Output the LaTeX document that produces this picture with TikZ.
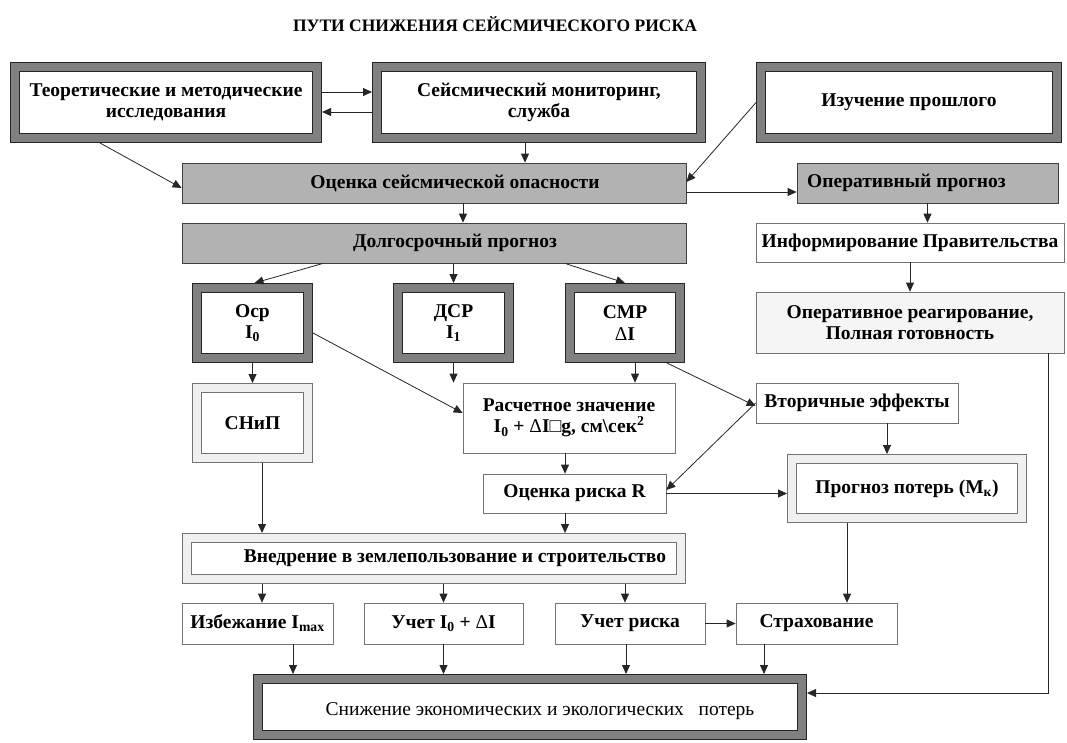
\documentclass[tikz,border=0pt]{standalone}
\usepackage{fontspec}
\setmainfont{Liberation Serif}
\usetikzlibrary{arrows.meta, calc}
\colorlet{bandgray}{black!50}
\colorlet{fillgray}{black!30}
\colorlet{palegray}{black!6}

\begin{document}
\begin{tikzpicture}[
        x=1pt, y=-1pt,
        every node/.style={
            font=\fontsize{19.5}{21.5}\selectfont\bfseries,
            align=center,
            inner sep=0pt,
        },
        heavy/.style={
            draw=black!85,
            line width=0.8pt,
            double=bandgray,
            double distance=8.4pt,
            fill=white,
            outer sep=5pt,
        },
        light/.style={
            draw=black!55,
            line width=0.7pt,
            double=palegray,
            double distance=8.6pt,
            fill=white,
            outer sep=5pt,
        },
        shaded/.style={
            draw=black!75,
            line width=0.8pt,
            fill=fillgray,
        },
        plain/.style={
            draw=black!55,
            line width=0.7pt,
            fill=white,
        },
        caption/.style={
            font=\fontsize{19.5}{21.5}\selectfont\bfseries,
            inner sep=0pt,
        },
        link/.style={
            -{Triangle[length=9pt, width=8pt]},
            draw=black!85,
            line width=0.8pt,
        },
    ]
    \useasboundingbox (0, 0) rectangle (1067, 742);

    \node[font=\fontsize{17.5}{20}\selectfont\bfseries] (title) at (495, 24) {ПУТИ СНИЖЕНИЯ СЕЙСМИЧЕСКОГО РИСКА};

    \node[heavy, minimum width=302pt, minimum height=71pt] (teor) at (166, 102.5) {Теоретические и методические\\исследования};
    \node[heavy, minimum width=324pt, minimum height=71pt] (mon) at (539, 102.5) {Сейсмический мониторинг,\\служба};
    \node[heavy, minimum width=296pt, minimum height=71pt] (izuch) at (909, 102.5) {Изучение прошлого};

    \node[shaded, minimum width=504pt, minimum height=40pt,
        label={[caption, xshift=21pt]center:Оценка сейсмической опасности}] (ocenka) at (434, 183) {};
    \node[shaded, minimum width=261pt, minimum height=40pt,
        label={[caption, xshift=-21pt]center:Оперативный прогноз}] (oper) at (927.5, 183) {};
    \node[shaded, minimum width=504pt, minimum height=40pt,
        label={[caption, xshift=21pt]center:Долгосрочный прогноз}] (dolg) at (434, 243) {};
    \node[plain, minimum width=308pt, minimum height=39pt] (inform) at (910, 242.5) {Информирование Правительства};

    \node[heavy, minimum width=111pt, minimum height=70pt] (osr) at (252.5, 323) {Оср\\I\textsubscript{0}};
    \node[heavy, minimum width=111pt, minimum height=70pt] (dsr) at (453.5, 323) {ДСР\\I\textsubscript{1}};
    \node[heavy, minimum width=110pt, minimum height=70pt] (smr) at (625, 323) {СМР\\{\mdseries Δ}I};
    \node[plain, fill=black!4, minimum width=308pt, minimum height=61pt] (reag) at (910, 322.5) {Оперативное реагирование,\\Полная готовность};

    \node[light, minimum width=111pt, minimum height=70pt] (snip) at (252.5, 423) {СНиП};
    \node[plain, minimum width=212pt, minimum height=70pt] (rasch) at (569, 418) {Расчетное значение\\I\textsubscript{0} + {\mdseries Δ}I□g, см\textbackslash сек\textsuperscript{2}};
    \node[plain, minimum width=202pt, minimum height=40pt] (vtor) at (857, 403) {Вторичные эффекты};

    \node[plain, minimum width=183pt, minimum height=39pt] (riskR) at (574.5, 493.5) {Оценка риска R};
    \node[light, minimum width=230pt, minimum height=59pt] (progn) at (907, 488.5) {Прогноз потерь (М\textsubscript{к})};

    \node[light, minimum width=494pt, minimum height=41pt,
        label={[caption, xshift=21pt]center:Внедрение в землепользование и строительство}] (vnedr) at (434, 558.5) {};

    \node[plain, minimum width=151pt, minimum height=41pt] (izbezh) at (257.5, 623.5) {Избежание I\textsubscript{max}};
    \node[plain, minimum width=159pt, minimum height=41pt] (uchet) at (443.5, 623.5) {Учет I\textsubscript{0} + {\mdseries Δ}I};
    \node[plain, minimum width=150pt, minimum height=41pt] (uchrisk) at (630, 623.5) {Учет риска};
    \node[plain, minimum width=161pt, minimum height=41pt] (strakh) at (816.5, 623.5) {Страхование};

    \node[heavy, minimum width=544pt, minimum height=56pt,
        label={[caption, font=\fontsize{19.5}{21.5}\selectfont\mdseries, xshift=10pt, yshift=-4pt]center:Снижение экономических и экологических\ \ \ потерь}] (snizh) at (530, 707) {};

    \begin{scope}[link]
        \draw ([yshift=10.5]teor.east) -- ([yshift=10.5]mon.west);
        \draw ([yshift=-9.5]mon.west) -- ([yshift=-9.5]teor.east);
        \draw ([xshift=-14]mon.south) -- ([xshift=-14]mon.south |- ocenka.north);
        \draw ([xshift=-66]teor.south) -- ([yshift=-5]ocenka.west);
        \draw (izuch.west) -- ([yshift=1]ocenka.east);
        \draw ([yshift=-9]ocenka.east) -- ([yshift=-9]oper.west);
        \draw ([xshift=29]ocenka.south) -- ([xshift=29]ocenka.south |- dolg.north);
        \draw (oper.south) -- (oper.south |- inform.north);
        \draw (inform.south) -- (reag.north);

        \draw ([xshift=-111]dolg.south) -- ([xshift=2]osr.north);
        \draw (dsr.north |- dolg.south) -- (dsr.north);
        \draw ([xshift=131]dolg.south) -- (smr.north);

        \draw (osr.south) -- (snip.north);
        \draw ([yshift=-10]osr.east) -- ([yshift=5]rasch.west);
        \draw (dsr.south) -- (dsr.south |- rasch.north);
        \draw ([xshift=10]smr.south) -- ([xshift=10]smr.south |- rasch.north);
        \draw ([xshift=42]smr.south) -- ([yshift=-3]vtor.west);
        \draw (vtor.west) -- ([yshift=3.5]riskR.east);
        \draw (riskR.east) -- (riskR.east -| progn.west);
        \draw ([xshift=30]vtor.south) -- ([xshift=30]vtor.south |- progn.north);
        \draw ([xshift=-4]rasch.south) -- ([xshift=-4]rasch.south |- riskR.north);

        \draw ([xshift=9.5]snip.south) -- ([xshift=9.5]snip.south |- vnedr.north);
        \draw ([xshift=-9.5]riskR.south) -- ([xshift=-9.5]riskR.south |- vnedr.north);
        \draw ([xshift=4.5]izbezh.north |- vnedr.south) -- ([xshift=4.5]izbezh.north);
        \draw (uchet.north |- vnedr.south) -- (uchet.north);
        \draw ([xshift=-5]uchrisk.north |- vnedr.south) -- ([xshift=-5]uchrisk.north);
        \draw ([xshift=-60]progn.south) -- ([xshift=-60]progn.south |- strakh.north);
        \draw (uchrisk.east) -- (strakh.west);

        \draw ([xshift=35.5]izbezh.south) -- ([xshift=35.5]izbezh.south |- snizh.north);
        \draw (uchet.south) -- (uchet.south |- snizh.north);
        \draw ([xshift=-4]uchrisk.south) -- ([xshift=-4]uchrisk.south |- snizh.north);
        \draw ([xshift=-52.5]strakh.south) -- ([xshift=-52.5]strakh.south |- snizh.north);
        \draw ([xshift=138]reag.south) |- ([yshift=14]snizh.east);
    \end{scope}
\end{tikzpicture}
\end{document}
